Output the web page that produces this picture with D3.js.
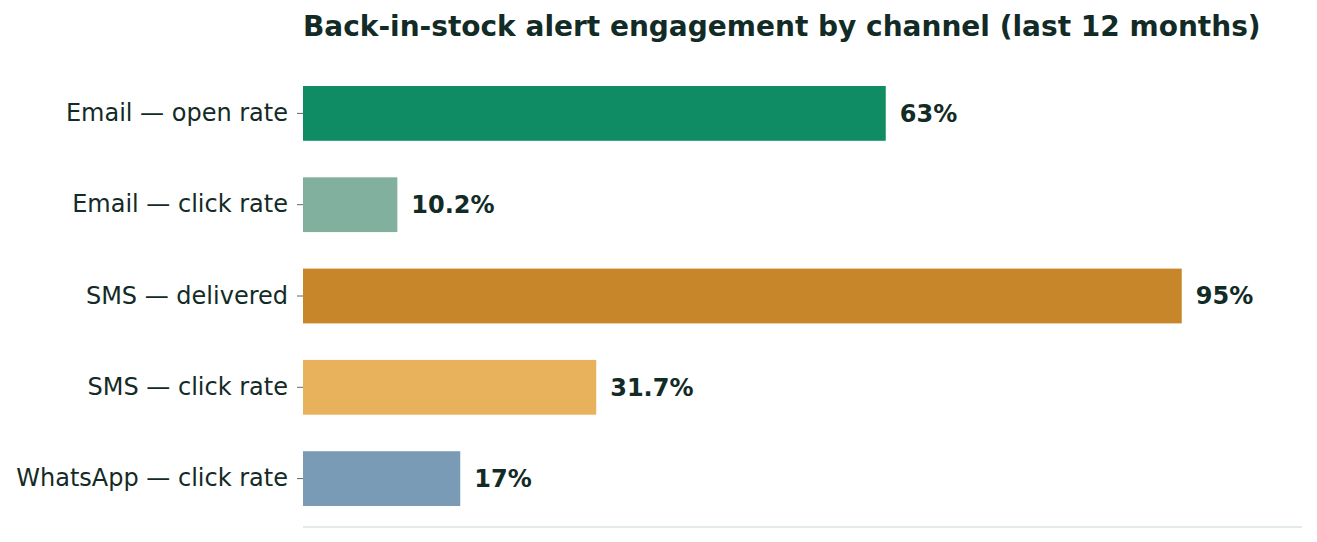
<!DOCTYPE html>
<meta charset="utf-8">
<style>
body { margin: 0; background: #fff; }
svg { font-family: "DejaVu Sans", sans-serif; }
.title { font-size: 28px; font-weight: bold; fill: #132b26; }
.y-axis text { font-size: 24px; fill: #132b26; }
.y-axis line { stroke: #5a6b66; }
.y-axis path { display: none; }
.value { font-size: 24px; font-weight: bold; fill: #132b26; }
.baseline { stroke: #e3eae8; stroke-width: 2px; }
</style>
<svg width="1317" height="542"></svg>
<script src="https://d3js.org/d3.v7.min.js"></script>
<script>

var categories = ["Email — open rate", "Email — click rate", "SMS — delivered", "SMS — click rate", "WhatsApp — click rate"];
var values = [63, 10.2, 95, 31.7, 17];
var colors = ["#108c65", "#82b09e", "#c8862b", "#e8b25d", "#7a9bb6"];

var svg = d3.select("svg"),
    margin = {top: 65, right: 15, bottom: 15, left: 303},
    width = +svg.attr("width") - margin.left - margin.right,
    height = +svg.attr("height") - margin.top - margin.bottom;

var data = categories.map(function(c, i) { return {name: c, value: values[i], color: colors[i]}; });

var x = d3.scaleLinear()
    .domain([0, 108])
    .range([0, width]);

var y = d3.scaleBand()
    .domain(categories)
    .range([0, height])
    .paddingInner(0.4)
    .paddingOuter(0.23);

svg.append("text")
    .attr("class", "title")
    .attr("x", margin.left)
    .attr("y", 36)
    .text("Back-in-stock alert engagement by channel (last 12 months)");

var g = svg.append("g")
    .attr("transform", "translate(" + margin.left + "," + margin.top + ")");

g.append("line")
    .attr("class", "baseline")
    .attr("x1", 0)
    .attr("x2", width)
    .attr("y1", height)
    .attr("y2", height);

g.selectAll(".bar")
  .data(data)
  .enter().append("rect")
    .attr("class", "bar")
    .attr("x", 0)
    .attr("y", function(d) { return y(d.name); })
    .attr("width", function(d) { return x(d.value); })
    .attr("height", y.bandwidth())
    .attr("fill", function(d) { return d.color; });

g.selectAll(".value")
  .data(data)
  .enter().append("text")
    .attr("class", "value")
    .attr("x", function(d) { return x(d.value) + 14; })
    .attr("y", function(d) { return y(d.name) + y.bandwidth() / 2; })
    .attr("dy", "0.35em")
    .text(function(d) { return d.value + "%"; });

g.append("g")
    .attr("class", "y-axis")
    .call(d3.axisLeft(y).tickSize(6).tickPadding(9))
    .attr("font-family", null)
    .attr("font-size", null);

</script>
